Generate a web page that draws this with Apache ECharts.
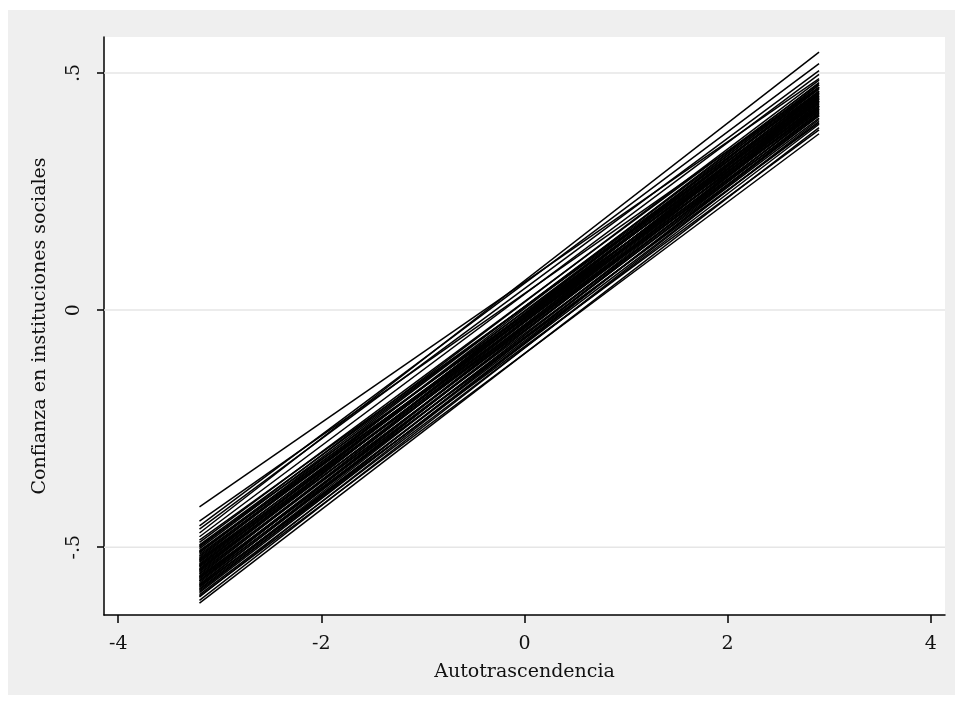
<!DOCTYPE html>
<html lang="es">
<head>
<meta charset="UTF-8">
<title>Confianza vs Autotrascendencia</title>
<script src="https://cdn.jsdelivr.net/npm/echarts@6/dist/echarts.min.js"></script>
<style>
  html, body { margin: 0; padding: 0; background: #fff; }
  #chart { width: 959px; height: 702px; }
</style>
</head>
<body>
<div id="chart"></div>
<script>
// predicted lines, one per group: value at the left end and at the right end
var xStart = -3.2;
var xEnd = 2.9;
var leftY = [
  -0.415, -0.470, -0.455, -0.445, -0.462, -0.478, -0.485, -0.490, -0.495, -0.500,
  -0.503, -0.507, -0.510, -0.512, -0.515, -0.518, -0.520, -0.523, -0.525, -0.528,
  -0.530, -0.532, -0.535, -0.537, -0.540, -0.542, -0.545, -0.547, -0.550, -0.552,
  -0.555, -0.557, -0.560, -0.562, -0.565, -0.567, -0.570, -0.572, -0.575, -0.578,
  -0.580, -0.583, -0.585, -0.588, -0.590, -0.593, -0.596, -0.600, -0.605, -0.612,
  -0.618, -0.603, -0.497, -0.548, -0.563, -0.527, -0.581, -0.539, -0.509, -0.571
];
var rightY = [
  0.488, 0.544, 0.520, 0.470, 0.505, 0.497, 0.452, 0.478, 0.462, 0.485,
  0.470, 0.445, 0.475, 0.458, 0.438, 0.466, 0.450, 0.480, 0.442, 0.460,
  0.432, 0.455, 0.470, 0.440, 0.448, 0.425, 0.462, 0.436, 0.452, 0.420,
  0.445, 0.430, 0.458, 0.415, 0.440, 0.428, 0.448, 0.410, 0.435, 0.422,
  0.442, 0.405, 0.430, 0.418, 0.398, 0.425, 0.410, 0.392, 0.415, 0.402,
  0.385, 0.372, 0.430, 0.468, 0.395, 0.412, 0.380, 0.475, 0.425, 0.455
];
var xTicks = [-4, -2, 0, 2, 4];
var yTicks = [-0.5, 0, 0.5];
var xMin = -4.14, xMax = 4.14;

var font = 'DejaVu Serif';

function yLabel(v) {
  if (v === 0) return '0';
  return String(v).replace('0.', '.');
}

var series = [];
// horizontal grid lines at the y ticks, drawn under the fitted lines
yTicks.forEach(function (v) {
  series.push({
    type: 'line',
    data: [[xMin, v], [xMax, v]],
    showSymbol: false,
    silent: true,
    lineStyle: { color: '#e6e6e6', width: 1.5 },
    z: 1
  });
});
for (var i = 0; i < leftY.length; i++) {
  series.push({
    type: 'line',
    data: [[xStart, leftY[i]], [xEnd, rightY[i]]],
    showSymbol: false,
    silent: true,
    lineStyle: { color: '#000', width: 1.5 },
    z: 5
  });
}

var chart = echarts.init(document.getElementById('chart'));
chart.setOption({
  animation: false,
  graphic: [{
    type: 'rect',
    z: -100,
    shape: { x: 8, y: 10, width: 947, height: 685 },
    style: { fill: '#efefef' }
  }],
  grid: {
    left: 104, top: 37, right: 14, bottom: 87,
    show: true, backgroundColor: '#fff', borderWidth: 0
  },
  xAxis: {
    type: 'value',
    min: xMin, max: xMax,
    name: 'Autotrascendencia',
    nameLocation: 'middle',
    nameGap: 48,
    nameTextStyle: { fontFamily: font, fontSize: 19, color: '#111' },
    axisLine: { show: true, onZero: false, lineStyle: { color: '#000', width: 1.5 } },
    axisTick: { show: true, length: 8, customValues: xTicks, lineStyle: { color: '#000', width: 1.5 } },
    axisLabel: { customValues: xTicks, fontFamily: font, fontSize: 19, color: '#111', margin: 20 },
    splitLine: { show: false }
  },
  yAxis: {
    type: 'value',
    min: -0.643, max: 0.576,
    name: 'Confianza en instituciones sociales',
    nameLocation: 'middle',
    nameGap: 54,
    nameTextStyle: { fontFamily: font, fontSize: 19, color: '#111' },
    axisLine: { show: true, onZero: false, lineStyle: { color: '#000', width: 1.5 } },
    axisTick: { show: true, length: 7, customValues: yTicks, lineStyle: { color: '#000', width: 1.5 } },
    axisLabel: {
      customValues: yTicks, rotate: 90, formatter: yLabel,
      fontFamily: font, fontSize: 19, color: '#111', margin: 20
    },
    splitLine: { show: false }
  },
  series: series
});
</script>
</body>
</html>
